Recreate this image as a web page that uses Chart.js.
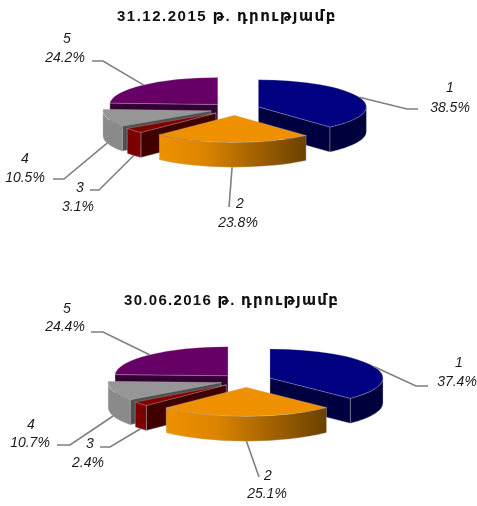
<!DOCTYPE html>
<html>
<head>
<meta charset="utf-8">
<style>
  html, body { margin: 0; padding: 0; background: #fff; overflow: hidden; }
  canvas { display: block; }
</style>
<script src="https://cdn.jsdelivr.net/npm/chart.js@4/dist/chart.umd.min.js"></script>
</head>
<body>
<canvas id="pieEnd2015" width="477" height="253"></canvas>
<canvas id="pieMid2016" width="477" height="253"></canvas>
<script>
// Shares by category at the two reporting dates
const categories = ['1', '2', '3', '4', '5'];
const sharesEnd2015 = [38.5, 23.8, 3.1, 10.5, 24.2];
const sharesMid2016 = [37.4, 25.1, 2.4, 10.7, 24.4];
const titleEnd2015 = '31.12.2015 թ. դրությամբ';
const titleMid2016 = '30.06.2016 թ. դրությամբ';

// Slice colours: top surface, curved wall, cut faces
const topColors = ['#000080', '#EE9000', '#800000', '#969696', '#660066'];
const wallColors = ['#00003C', null, '#7C0000', '#8A8A8A', '#4A004A'];
const faceColors = ['#000040', '#7A4A00', '#400000', '#505050', '#330033'];

// Back-to-front painting order of the slices
const paintOrder = [4, 0, 3, 2, 1];

const LABEL_FONT = "italic 14px 'Liberation Sans', Arial, sans-serif";
const TITLE_FONT = { family: "'Liberation Sans', 'DejaVu Sans', sans-serif", size: 15, weight: 'bold' };

// Exploded 3D look: the library's arcs are squashed vertically and given a wall.
const pie3d = {
  id: 'pie3d',
  beforeDraw(chart) { chart.ctx.letterSpacing = chart.options.plugins.pie3d.titleSpacing; },
  afterDraw(chart) { chart.ctx.letterSpacing = '0px'; },
  beforeDatasetDraw(chart) {
    const { ctx } = chart;
    const { squash, depth, explode } = chart.options.plugins.pie3d;
    const arcs = chart.getDatasetMeta(0).data;
    ctx.letterSpacing = '0px';
    paintOrder.forEach(i => {
      const arc = arcs[i];
      const mid = (arc.startAngle + arc.endAngle) / 2;
      const r = arc.outerRadius;
      const ax = arc.x + Math.cos(mid) * explode;
      const ay = arc.y + Math.sin(mid) * explode * squash;
      const rim = a => [ax + r * Math.cos(a), ay + r * squash * Math.sin(a)];

      const face = a => {
        const [px, py] = rim(a);
        ctx.beginPath();
        ctx.moveTo(ax, ay);
        ctx.lineTo(px, py);
        ctx.lineTo(px, py + depth);
        ctx.lineTo(ax, ay + depth);
        ctx.closePath();
        ctx.fillStyle = faceColors[i];
        ctx.fill();
        ctx.lineWidth = 0.6;
        ctx.strokeStyle = 'rgba(190,190,190,0.7)';
        ctx.stroke();
      };
      // Cut faces are shown only when they turn toward the viewer
      if (-Math.cos(arc.startAngle) > 1e-6) face(arc.startAngle);
      if (Math.cos(arc.endAngle) > 1e-6) face(arc.endAngle);

      // Curved outer wall on the near half of the rim
      const a0 = Math.max(arc.startAngle, 0);
      const a1 = Math.min(arc.endAngle, Math.PI);
      if (a1 > a0) {
        ctx.beginPath();
        ctx.ellipse(ax, ay, r, r * squash, 0, a0, a1);
        ctx.ellipse(ax, ay + depth, r, r * squash, 0, a1, a0, true);
        ctx.closePath();
        if (wallColors[i]) {
          ctx.fillStyle = wallColors[i];
        } else {
          const [lx] = rim(a1);
          const [rx] = rim(a0);
          const g = ctx.createLinearGradient(lx, 0, rx, 0);
          g.addColorStop(0, '#EE9000');
          g.addColorStop(0.3, '#DD8500');
          g.addColorStop(1, '#6A4100');
          ctx.fillStyle = g;
        }
        ctx.fill();
        ctx.lineWidth = 0.6;
        ctx.strokeStyle = 'rgba(190,190,190,0.6)';
        ctx.stroke();
      }

      // Top surface, drawn by the arc element itself
      ctx.save();
      ctx.translate(ax, ay);
      ctx.scale(1, squash);
      ctx.translate(-arc.x, -arc.y);
      arc.draw(ctx);
      ctx.restore();
    });
    return false;
  },
  afterDatasetsDraw(chart) {
    const { ctx } = chart;
    const { squash, depth, explode, callouts } = chart.options.plugins.pie3d;
    const arcs = chart.getDatasetMeta(0).data;
    const values = chart.data.datasets[0].data;
    ctx.letterSpacing = '0px';
    arcs.forEach((arc, i) => {
      const mid = (arc.startAngle + arc.endAngle) / 2;
      const r = arc.outerRadius;
      const sx = arc.x + Math.cos(mid) * (explode + r);
      const sy = arc.y + Math.sin(mid) * (explode + r) * squash + (Math.sin(mid) > 0 ? depth : 0);
      const c = callouts[i];

      // Leader line from the slice rim to its label
      ctx.beginPath();
      ctx.moveTo(sx, sy);
      c.path.forEach(([x, y]) => ctx.lineTo(x, y));
      ctx.strokeStyle = '#7F7F7F';
      ctx.lineWidth = 1.6;
      ctx.stroke();

      ctx.font = LABEL_FONT;
      ctx.fillStyle = '#1A1A1A';
      ctx.textAlign = 'center';
      ctx.textBaseline = 'middle';
      ctx.fillText(chart.data.labels[i], c.name[0], c.name[1]);
      ctx.fillText(values[i].toFixed(1) + '%', c.value[0], c.value[1]);
    });
  }
};

function makePie(id, shares, title, geometry) {
  return new Chart(document.getElementById(id), {
    type: 'pie',
    data: {
      labels: categories,
      datasets: [{
        data: shares,
        backgroundColor: topColors,
        borderColor: 'rgba(190,190,190,0.55)',
        borderWidth: 0.8,
        borderJoinStyle: 'round',
        hoverOffset: 0
      }]
    },
    options: {
      responsive: false,
      animation: false,
      events: [],
      radius: geometry.radius,
      layout: { padding: geometry.padding },
      plugins: {
        legend: { display: false },
        tooltip: { enabled: false },
        title: {
          display: true,
          text: title,
          align: 'start',
          color: '#111111',
          font: TITLE_FONT,
          padding: geometry.titlePadding
        },
        pie3d: {
          squash: geometry.squash,
          depth: geometry.depth,
          explode: geometry.explode,
          titleSpacing: geometry.titleSpacing,
          callouts: geometry.callouts
        }
      }
    },
    plugins: [pie3d]
  });
}

makePie('pieEnd2015', sharesEnd2015, titleEnd2015, {
  radius: 108, squash: 0.25, depth: 25, explode: 25, titleSpacing: '1.5px',
  padding: { left: 117, right: 124, top: 0, bottom: 61 },
  titlePadding: { top: 8, bottom: 0 },
  callouts: [
    { path: [[407, 109], [418, 109]], name: [450, 88], value: [450, 108] },
    { path: [[229, 207]], name: [240, 204], value: [238, 223] },
    { path: [[99, 190], [90, 190]], name: [80, 188], value: [78, 207] },
    { path: [[64, 179], [53, 179]], name: [25, 159], value: [25, 178] },
    { path: [[103, 61], [92, 61]], name: [67, 39], value: [65, 58] }
  ]
});

makePie('pieMid2016', sharesMid2016, titleMid2016, {
  radius: 113, squash: 0.257, depth: 25, explode: 26, titleSpacing: '1.3px',
  padding: { left: 124, right: 109, top: 0, bottom: 55 },
  titlePadding: { top: 39, bottom: 0 },
  callouts: [
    { path: [[416, 133], [428, 133]], name: [459, 110], value: [457, 129] },
    { path: [[259, 224]], name: [268, 223], value: [267, 241] },
    { path: [[110, 194], [100, 194]], name: [90, 191], value: [88, 210] },
    { path: [[70, 192], [57, 192]], name: [31, 172], value: [30, 190] },
    { path: [[103, 79], [91, 79]], name: [67, 56], value: [65, 74] }
  ]
});
</script>
</body>
</html>
